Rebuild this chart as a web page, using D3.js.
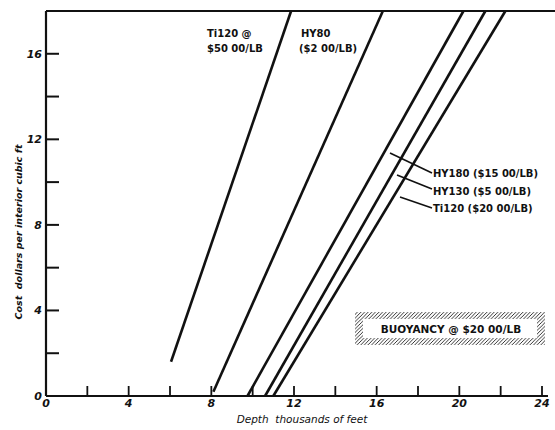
<!DOCTYPE html>
<html><head><meta charset="utf-8">
<script src="https://cdn.jsdelivr.net/npm/d3@7"></script>
<style>body{margin:0;background:#fff}svg{display:block}</style>
</head><body>
<svg id="c" width="555" height="430"></svg>
<script>
// Data: each curve given by its end points [depth (thousand ft), cost ($/cu ft)]
const seriesNames = ["Ti120 @ $50 00/LB", "HY80 ($2 00/LB)", "HY180 ($15 00/LB)", "HY130 ($5 00/LB)", "Ti120 ($20 00/LB)"];
const ti120_50 = [[6.05, 1.6], [11.86, 18]];
const hy80 = [[8.1, 0.2], [16.3, 18]];
const hy180 = [[9.75, 0], [20.2, 18]];
const hy130 = [[10.6, 0], [21.26, 18]];
const ti120_20 = [[11.0, 0], [22.23, 18]];
const xTicks = [0, 4, 8, 12, 16, 20, 24];
const yTicks = [0, 4, 8, 12, 16];
const xMinor = [2, 4, 6, 8, 10, 12, 14, 16, 18, 20, 22, 24];
const yMinor = [2, 4, 6, 8, 10, 12, 14, 16];

const svg = d3.select("#c");
const x = d3.scaleLinear().domain([0, 24]).range([46, 542]);
const y = d3.scaleLinear().domain([0, 18]).range([396, 11]);
const ink = "#111";

// hatch pattern
const defs = svg.append("defs");
defs.append("pattern").attr("id", "hatch").attr("patternUnits", "userSpaceOnUse")
  .attr("width", 3.6).attr("height", 3.6)
  .append("path").attr("d", "M-0.9,0.9 L0.9,-0.9 M0,3.6 L3.6,0 M2.7,4.5 L4.5,2.7")
  .attr("stroke", ink).attr("stroke-width", 0.85);

// frame: top border, axes
svg.append("line").attr("x1", x(0)).attr("x2", 555).attr("y1", y(18)).attr("y2", y(18))
  .attr("stroke", ink).attr("stroke-width", 2);
svg.append("line").attr("x1", x(0)).attr("x2", x(0)).attr("y1", y(18)).attr("y2", y(0))
  .attr("stroke", ink).attr("stroke-width", 2.2);
svg.append("line").attr("x1", x(0)).attr("x2", 548).attr("y1", y(0)).attr("y2", y(0))
  .attr("stroke", ink).attr("stroke-width", 2.2);

// ticks
svg.selectAll(".xt").data(xMinor).join("line")
  .attr("x1", d => x(d)).attr("x2", d => x(d)).attr("y1", y(0)).attr("y2", y(0) - 10)
  .attr("stroke", ink).attr("stroke-width", 1.8);
svg.selectAll(".yt").data(yMinor).join("line")
  .attr("x1", x(0)).attr("x2", x(0) + 13).attr("y1", d => y(d)).attr("y2", d => y(d))
  .attr("stroke", ink).attr("stroke-width", 2);

// tick labels
const tf = "'DejaVu Sans', sans-serif";
svg.selectAll(".xl").data(xTicks).join("text")
  .attr("x", d => x(d)).attr("y", 407).attr("text-anchor", "middle")
  .attr("font-family", tf).attr("font-style", "italic").attr("font-weight", "bold")
  .attr("font-size", 11).attr("fill", ink).text(d => d);
svg.selectAll(".yl").data(yTicks).join("text")
  .attr("x", 42).attr("y", d => y(d) + 4).attr("text-anchor", "end")
  .attr("font-family", tf).attr("font-style", "italic").attr("font-weight", "bold")
  .attr("font-size", 11).attr("fill", ink).text(d => d);

// axis titles
svg.append("text").attr("x", 302).attr("y", 423).attr("text-anchor", "middle")
  .attr("font-family", tf).attr("font-style", "italic").attr("font-size", 10.5)
  .attr("fill", ink).attr("xml:space", "preserve").text("Depth  thousands of feet");
svg.append("text").attr("transform", "translate(22,232) rotate(-90)").attr("text-anchor", "middle")
  .attr("font-family", tf).attr("font-style", "italic").attr("font-weight", "bold").attr("font-size", 9.5)
  .attr("fill", ink).attr("xml:space", "preserve").text("Cost  dollars per interior cubic ft");

// curves
const lineGen = d3.line().x(d => x(d[0])).y(d => y(d[1]));
const curves = [ti120_50, hy80, hy180, hy130, ti120_20];
svg.selectAll(".curve").data(curves).join("path")
  .attr("d", lineGen).attr("fill", "none").attr("stroke", ink).attr("stroke-width", 2.6);

// labels
const lf = "'DejaVu Sans', sans-serif";
function lab(t, px, py) {
  svg.append("text").attr("x", px).attr("y", py).attr("font-family", lf)
    .attr("font-weight", "bold").attr("font-size", 10).attr("fill", ink).text(t);
}
lab("Ti120 @", 207, 37);
lab("$50 00/LB", 207, 52);
lab("HY80", 301, 37);
lab("($2 00/LB)", 299, 52);
lab(seriesNames[2], 433, 177);
lab(seriesNames[3], 433, 195);
lab(seriesNames[4], 433, 212);

// leader lines
const leaders = [[390, 153, 432, 173], [397, 175, 432, 189], [400, 197, 432, 208]];
svg.selectAll(".ld").data(leaders).join("line")
  .attr("x1", d => d[0]).attr("y1", d => d[1]).attr("x2", d => d[2]).attr("y2", d => d[3])
  .attr("stroke", ink).attr("stroke-width", 1.6);

// buoyancy box
svg.append("rect").attr("x", 355).attr("y", 312).attr("width", 190).attr("height", 33)
  .attr("fill", "url(#hatch)");
svg.append("rect").attr("x", 363).attr("y", 319).attr("width", 174).attr("height", 19)
  .attr("fill", "#fff");
svg.append("text").attr("x", 451).attr("y", 333).attr("text-anchor", "middle")
  .attr("font-family", lf).attr("font-weight", "bold").attr("font-size", 10.5)
  .attr("fill", ink).text("BUOYANCY @ $20 00/LB");
</script>
</body></html>
